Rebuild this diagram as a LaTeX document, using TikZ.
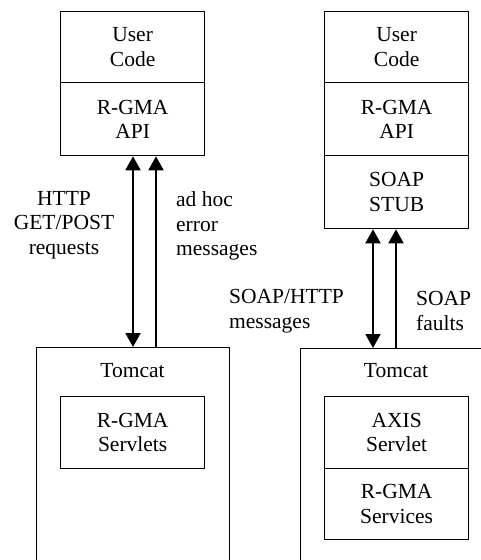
\documentclass[tikz,border=0pt]{standalone}
\usepackage{fontspec}
\setmainfont{Liberation Serif}
\usetikzlibrary{arrows.meta}
\begin{document}
\begin{tikzpicture}[x=1pt,y=-1pt,
  txt/.style={font={\fontsize{21.5}{24.5}\selectfont}, inner sep=0pt},
  box/.style={txt, draw, line width=1.3pt, align=center, anchor=north west, minimum width=144pt, minimum height=72pt},
  shell/.style={draw, line width=1.3pt, anchor=north west, inner sep=0pt},
  lbl/.style={txt},
  arr/.style={line width=2pt, -{Triangle[length=14pt,width=15pt]}},
  darr/.style={line width=2pt, {Triangle[length=14pt,width=15pt]}-{Triangle[length=14pt,width=15pt]}}
]
\useasboundingbox (0,0) rectangle (481,560);
\clip (0,0) rectangle (481,560);
\fill[white] (0,0) rectangle (481,560);

% left stack
\node[box, minimum height=71pt] (uc1) at (60,11) {User\\Code};
\node[box, minimum height=73pt] (api1) at (60,82) {R-GMA\\API};
\node[shell, minimum width=193pt, minimum height=260pt] (tc1) at (36,347) {};
\node[lbl] (tct1) at (132.5,371) {Tomcat};
\node[box] (srv1) at (60,396) {R-GMA\\Servlets};

% right stack
\node[box, minimum height=71pt] (uc2) at (324,11) {User\\Code};
\node[box, minimum height=73pt] (api2) at (324,82) {R-GMA\\API};
\node[box, minimum height=73pt] (stub2) at (324,155) {SOAP\\STUB};
\node[shell, minimum width=192pt, minimum height=260pt] (tc2) at (300,348) {};
\node[lbl] (tct2) at (396,371) {Tomcat};
\node[box, minimum height=72pt] (axis2) at (324,396) {AXIS\\Servlet};
\node[box, minimum height=71pt] (svc2) at (324,468) {R-GMA\\Services};

% arrows
\coordinate (xa) at (133,0);
\coordinate (xb) at (156,0);
\coordinate (xc) at (373,0);
\coordinate (xd) at (396,0);
\draw[darr] (xa |- api1.south) -- (xa |- tc1.north);
\draw[arr] (xb |- tc1.north) -- (xb |- api1.south);
\draw[darr] (xc |- stub2.south) -- (xc |- tc2.north);
\draw[arr] (xd |- tc2.north) -- (xd |- stub2.south);

% labels
\node[lbl, align=center] (l1) at (64,225) {HTTP\\GET/POST\\requests};
\node[lbl, align=left, anchor=west] (l2) at (176,226) {ad hoc\\error\\messages};
\node[lbl, align=left, anchor=west] (l3) at (229,311) {SOAP/HTTP\\messages};
\node[lbl, align=left, anchor=west] (l4) at (416,311) {SOAP\\faults};
\end{tikzpicture}
\end{document}
